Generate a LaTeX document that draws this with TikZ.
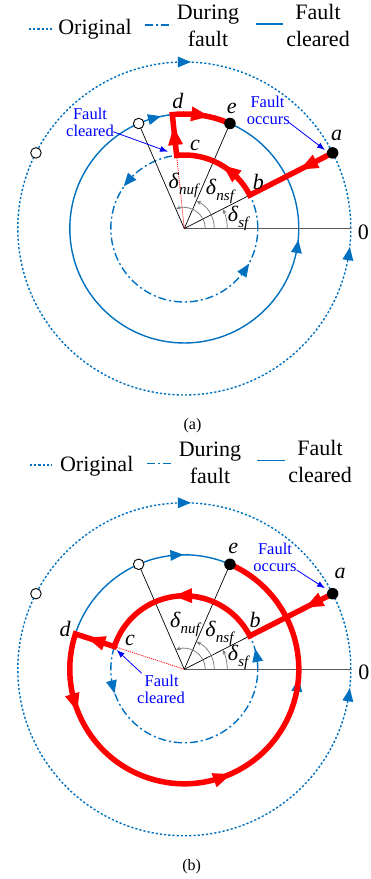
\documentclass[tikz,border=0pt]{standalone}
\usepackage{fontspec}
\setmainfont{Liberation Serif}
\usetikzlibrary{arrows.meta}
\definecolor{cblue}{RGB}{0,112,192}
\definecolor{lblue}{RGB}{0,0,255}
\definecolor{cred}{RGB}{255,0,0}
\newcommand\btri[2]{\fill[cblue,shift={(#1)},rotate=#2] (6.5,0) -- (-6.5,5.5) -- (-6.5,-5.5) -- cycle;}
\newcommand\rtri[2]{\fill[cred,shift={(#1)},rotate=#2] (9,0) -- (-9,7.5) -- (-9,-7.5) -- cycle;}
\newcommand\dlab[1]{\textit{δ}\raisebox{-0.28em}{\fontsize{15}{15}\selectfont\textit{#1}}}
\tikzset{
 orig/.style={cblue, line width=1.4pt, dash pattern=on 2.2pt off 2pt},
 during/.style={cblue, line width=1.4pt, dash pattern=on 8pt off 3pt on 2pt off 3pt},
 clr/.style={cblue, line width=1.4pt},
 axisln/.style={draw=black!65, line width=1.2pt},
 ray/.style={black, line width=0.7pt},
 reddot/.style={cred, line width=0.8pt, dash pattern=on 1pt off 1pt},
 angarc/.style={black!50, line width=0.8pt, -{Stealth[length=5pt,width=4pt]}},
 traj/.style={cred, line width=5.5pt, line join=miter},
 dotf/.style={circle, fill=black, inner sep=0, minimum size=11.5pt},
 doto/.style={circle, draw=black, fill=white, line width=0.9pt, inner sep=0, minimum size=10.5pt},
 ptl/.style={font=\fontsize{22}{22}\selectfont\itshape, inner sep=0},
 dl/.style={font=\fontsize{22}{22}\selectfont, inner sep=0},
 leg/.style={font=\fontsize{22}{22}\selectfont, inner sep=0, anchor=base},
 bl/.style={font=\fontsize{16.5}{16.5}\selectfont, text=lblue, inner sep=0, anchor=base},
 larr/.style={lblue, line width=0.8pt, -{Latex[length=8pt,width=6pt]}},
 capt/.style={font=\fontsize{16}{16}\selectfont, inner sep=0, anchor=base}
}
\begin{document}
\begin{tikzpicture}[x=1pt,y=1pt]
\useasboundingbox (0,0) rectangle (370,879);
% ================= (a) =================
% legend
\draw[orig] (29,850) -- (52,850);
\node[leg] (lgoA) at (95,844) {Original};
\draw[during] (145,854) -- (172,854);
\node[leg] (lgdA1) at (208,859) {During};
\node[leg] (lgdA2) at (208,832.3) {fault};
\draw[clr] (256,855) -- (283,855);
\node[leg] (lgfA1) at (318,859) {Fault};
\node[leg] (lgfA2) at (318,832.3) {cleared};
\begin{scope}[shift={(184.3,650.5)}]
\coordinate (A0) at (0,0);
\draw[orig] (A0) circle[radius=166.5pt];
\draw[during] (A0) circle[radius=73.5pt];
\draw[clr] (A0) circle[radius=114.5pt];
\coordinate (Aa) at (27:166.5pt);
\coordinate (Ab) at (27:73.5pt);
\coordinate (Ac) at (96:73.5pt);
\coordinate (Ad) at (96:114.5pt);
\coordinate (Ae) at (66.5:114.5pt);
\coordinate (Au) at (113.5:114.5pt);
\coordinate (Ao) at (153:166.5pt);
\coordinate (Az) at (0:166.5pt);
% blue arrows
\btri{90:166.5pt}{0}
\btri{-8.7:166.5pt}{81.3}
\btri{105:114.5pt}{15}
\btri{-9:114.5pt}{81}
\btri{140:73.5pt}{230}
\btri{-33.7:73.5pt}{56.3}
% rays
\draw[axisln] (A0) -- (Az);
\draw[ray] (A0) -- (Au);
\draw[ray] (A0) -- (Ae);
\draw[ray] (A0) -- (Ab);
\draw[reddot] (A0) -- (Ac);
\draw[angarc] (43pt,0) arc[start angle=0,end angle=27,radius=43pt];
\draw[angarc] (30pt,0) arc[start angle=0,end angle=66.5,radius=30pt];
\draw[angarc] (21pt,0) arc[start angle=0,end angle=113.5,radius=21pt];
% trajectory
\draw[traj] (Aa) -- (Ab) arc[start angle=27,end angle=96,radius=73.5pt] -- (Ad) arc[start angle=96,end angle=66.5,radius=114.5pt];
\rtri{27:139pt}{207}
\rtri{51.7:73.5pt}{141.7}
\rtri{96:93pt}{96}
\rtri{82:114.5pt}{-8}
% markers
\node[dotf] (mAa) at (Aa) {};
\node[dotf] (mAe) at (Ae) {};
\node[doto] (mAu) at (Au) {};
\node[doto] (mAo) at (Ao) {};
% labels
\node[ptl] (tAa) at (152.4,93.3) {a};
\node[ptl] (tAb) at (74,46.6) {b};
\node[ptl] (tAc) at (10.7,83.3) {c};
\node[ptl] (tAd) at (-6.5,127.5) {d};
\node[ptl] (tAe) at (47.4,120) {e};
\node[dl] (tA0) at (179,-3.5) {0};
\node[dl] (dnufA) at (0,43.5) {\dlab{nuf}};
\node[dl] (dnsfA) at (36.5,37.5) {\dlab{nsf}};
\node[dl] (dsfA) at (54.7,10.5) {\dlab{sf}};
\end{scope}
% blue annotations
\node[bl] (fcA1) at (90,759) {Fault};
\node[bl] (fcA2) at (90,742.3) {cleared};
\coordinate (fcAs) at (113,747.3);
\coordinate (fcAe) at (168,727.3);
\draw[larr] (fcAs) -- (fcAe);
\node[bl] (foA1) at (267.5,771) {Fault};
\node[bl] (foA2) at (268.3,754) {occurs};
\coordinate (foAs) at (288,757.3);
\coordinate (foAe) at (325,729);
\draw[larr] (foAs) -- (foAe);
\node[capt] (capA) at (192.5,449.5) {(a)};
% ================= (b) =================
\draw[orig] (30,414) -- (52,414);
\node[leg] (lgoB) at (96.7,407.3) {Original};
\draw[during] (146.7,415.7) -- (173.3,415.7);
\node[leg] (lgdB1) at (210,422.3) {During};
\node[leg] (lgdB2) at (210,395.7) {fault};
\draw[clr] (257,418.3) -- (285,418.3);
\node[leg] (lgfB1) at (320,423) {Fault};
\node[leg] (lgfB2) at (320,396) {cleared};
\begin{scope}[shift={(184.3,209.7)}]
\coordinate (B0) at (0,0);
\draw[orig] (B0) circle[radius=166.5pt];
\draw[during] (B0) circle[radius=73.5pt];
\draw[clr] (B0) circle[radius=114.5pt];
\coordinate (Ba) at (27:166.5pt);
\coordinate (Bb) at (27:73.5pt);
\coordinate (Bc) at (162:73.5pt);
\coordinate (Bd) at (162:114.5pt);
\coordinate (Be) at (66.5:114.5pt);
\coordinate (Bu) at (113.5:114.5pt);
\coordinate (Bo) at (153:166.5pt);
\coordinate (Bz) at (0:166.5pt);
\btri{90:166.5pt}{0}
\btri{-8.8:166.5pt}{81.2}
\btri{93.7:114.5pt}{3.7}
\btri{-7.9:114.5pt}{82.1}
\btri{11:73.5pt}{101}
\btri{194:73.5pt}{284}
\draw[axisln] (B0) -- (Bz);
\draw[ray] (B0) -- (Bu);
\draw[ray] (B0) -- (Be);
\draw[ray] (B0) -- (Bb);
\draw[reddot] (B0) -- (Bc);
\draw[angarc] (43pt,0) arc[start angle=0,end angle=27,radius=43pt];
\draw[angarc] (30pt,0) arc[start angle=0,end angle=66.5,radius=30pt];
\draw[angarc] (21pt,0) arc[start angle=0,end angle=113.5,radius=21pt];
\draw[traj] (Ba) -- (Bb) arc[start angle=27,end angle=162,radius=73.5pt] -- (Bd) arc[start angle=162,end angle=426.5,radius=114.5pt];
\rtri{27:145pt}{207}
\rtri{91:73.5pt}{181}
\rtri{162:93pt}{162}
\rtri{197:114.5pt}{287}
\rtri{289.5:114.5pt}{19.5}
\node[dotf] (mBa) at (Ba) {};
\node[dotf] (mBe) at (Be) {};
\node[doto] (mBu) at (Bu) {};
\node[doto] (mBo) at (Bo) {};
\node[ptl] (tBa) at (155.7,96) {a};
\node[ptl] (tBb) at (70.7,49.3) {b};
\node[ptl] (tBc) at (-54.3,29.3) {c};
\node[ptl] (tBd) at (-119.3,40.3) {d};
\node[ptl] (tBe) at (49,121) {e};
\node[dl] (tB0) at (179.5,-3) {0};
\node[dl] (dnufB) at (1.5,45) {\dlab{nuf}};
\node[dl] (dnsfB) at (36,36) {\dlab{nsf}};
\node[dl] (dsfB) at (54.7,11.8) {\dlab{sf}};
\end{scope}
\node[bl] (foB1) at (275,324) {Fault};
\node[bl] (foB2) at (275,307.3) {occurs};
\coordinate (foBs) at (296.7,309);
\coordinate (foBe) at (325,290.7);
\draw[larr] (foBs) -- (foBe);
\node[bl] (fcB1) at (161.7,192.3) {Fault};
\node[bl] (fcB2) at (161,175) {cleared};
\coordinate (fcBs) at (141.7,205.7);
\coordinate (fcBe) at (116.7,229);
\draw[larr] (fcBs) -- (fcBe);
\node[capt] (capB) at (191.7,9) {(b)};
\end{tikzpicture}
\end{document}
